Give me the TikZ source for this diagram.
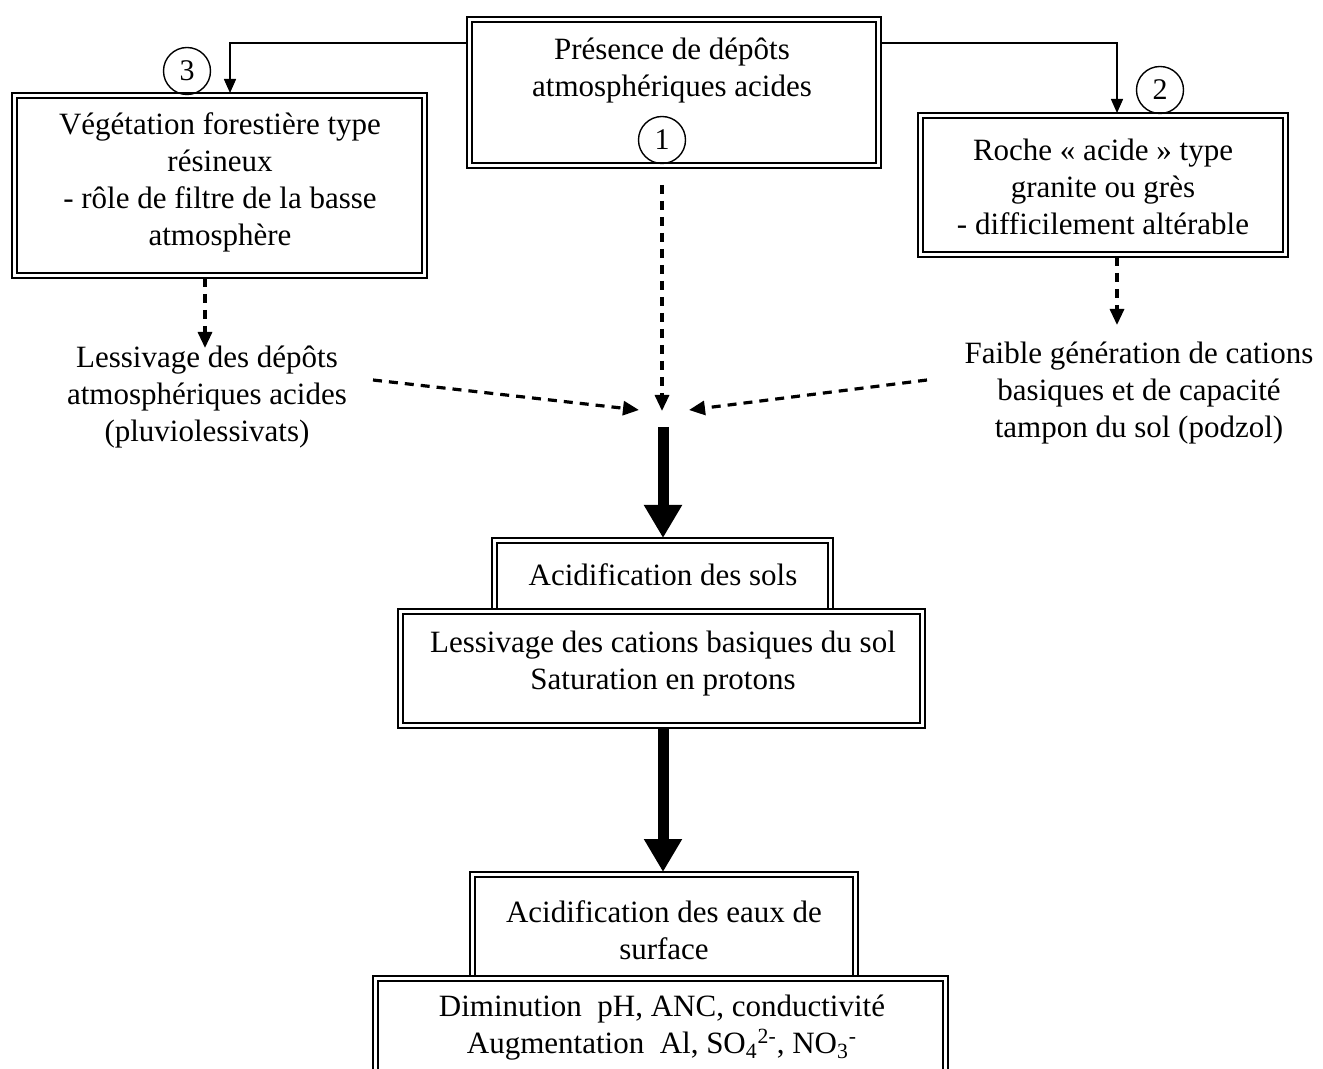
\documentclass[tikz,border=0pt]{standalone}
\usepackage{fontspec}
\setmainfont{Liberation Serif}
\usetikzlibrary{arrows.meta}
\newcommand\innerrect[1]{\draw[inbox] ([shift={(5,5)}]#1.north west) rectangle ([shift={(-5,-5)}]#1.south east);}
\begin{document}
\begin{tikzpicture}[x=0.5pt,y=-0.5pt,
 dbox/.style={draw, line width=0.7pt, fill=white, inner sep=0pt, outer sep=0pt},
 inbox/.style={line width=1.4pt},
 txt/.style={align=center, inner sep=1pt, font=\fontsize{15.5}{18.5}\selectfont},
 num/.style={circle, draw, line width=0.7pt, minimum size=23.5pt, inner sep=0pt, outer sep=0pt, font=\fontsize{15}{15}\selectfont},
 conn/.style={line width=0.75pt, -{Triangle[length=7pt,width=6pt]}},
 dconn/.style={line width=1.6pt, dash pattern=on 4.5pt off 3.5pt, -{Triangle[length=8pt,width=7pt]}},
 big/.style={line width=5.5pt, -{Triangle[length=16.5pt,width=18pt]}}]
\clip (0,0) rectangle (1323,1069);
\fill[white] (0,0) rectangle (1323,1069);

% top boxes
\node[dbox, minimum width=207pt, minimum height=75.5pt] (P) at (674,92.5) {};
\innerrect{P}
\node[txt] (Pt) at (672,70.5) {Présence de dépôts\\atmosphériques acides};
\node[num] (C1) at (662,140) {1};

\node[dbox, minimum width=207.5pt, minimum height=92.5pt] (V) at (219.5,185.5) {};
\innerrect{V}
\node[txt] (Vt) at (220,182) {Végétation forestière type\\résineux\\- rôle de filtre de la basse\\atmosphère};
\node[num] (C3) at (187,71) {3};

\node[dbox, minimum width=185pt, minimum height=72pt] (R) at (1103,185) {};
\innerrect{R}
\node[txt] (Rt) at (1103,187) {Roche « acide » type\\granite ou grès\\- difficilement altérable};
\node[num] (C2) at (1160,90) {2};

% side texts
\node[txt] (LV) at (207,397) {Lessivage des dépôts\\atmosphériques acides\\(pluviolessivats)};
\node[txt] (RF) at (1139,393) {Faible génération de cations\\basiques et de capacité\\tampon du sol (podzol)};

% middle boxes
\node[dbox, minimum width=170.5pt, minimum height=51pt] (S) at (662.5,589) {};
\innerrect{S}
\node[txt] (St) at (663,575) {Acidification des sols};
\node[dbox, minimum width=263.5pt, minimum height=59.5pt] (L) at (661.5,668.5) {};
\innerrect{L}
\node[txt] (Lt) at (663,664) {Lessivage des cations basiques du sol\\Saturation en protons};

% bottom boxes
\node[dbox, minimum width=194pt, minimum height=64pt] (E) at (664,936) {};
\innerrect{E}
\node[txt] (Et) at (664,930) {Acidification des eaux de\\surface};
\node[dbox, minimum width=287.5pt, minimum height=57pt] (D) at (660.5,1033) {};
\innerrect{D}
\node[txt] (Dt) at (662,1028) {Diminution\ \ pH, ANC, conductivité\\Augmentation\ \ Al, SO\textsubscript{4}\textsuperscript{2-}, NO\textsubscript{3}\textsuperscript{-}};

% solid connectors
\draw[conn] (P.west |- 0,43) -| (230,0 |- V.north);
\draw[conn] (P.east |- 0,43) -| (1117,0 |- R.north);

% dashed connectors
\coordinate (c1s) at (662,185);
\coordinate (jc) at (662,411);
\coordinate (ls) at (373,380);
\coordinate (jl) at (639,410);
\coordinate (rs) at (927,380);
\coordinate (jr) at (689,410);
\coordinate (vt) at (205,348);
\coordinate (rt) at (1117,325);
\draw[dconn] (c1s) -- (jc);
\draw[dconn] (ls) -- (jl);
\draw[dconn] (rs) -- (jr);
\draw[dconn] (205,0 |- V.south) -- (vt);
\draw[dconn] (1117,0 |- R.south) -- (rt);

% thick arrows
\draw[big] (663,427) -- (663,0 |- S.north);
\draw[big] (663,0 |- L.south) -- (663,0 |- E.north);
\end{tikzpicture}
\end{document}
